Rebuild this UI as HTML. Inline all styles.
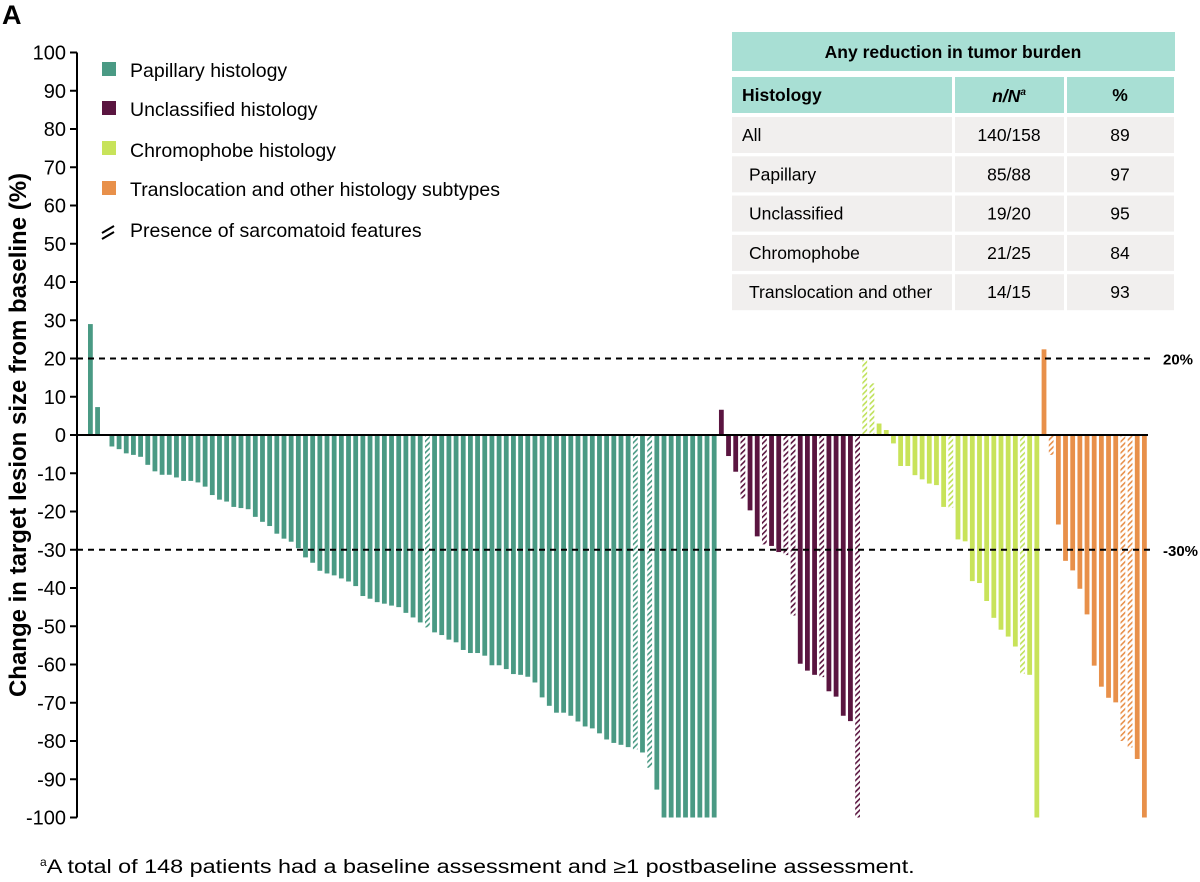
<!DOCTYPE html>
<html><head><meta charset="utf-8"><style>
body{margin:0;background:#fff;font-family:"Liberation Sans",Arial,sans-serif}
svg{display:block}
</style></head><body>
<svg id="chart" width="1200" height="882" viewBox="0 0 1200 882" xmlns="http://www.w3.org/2000/svg" font-family="Liberation Sans, Arial, sans-serif">
<defs>
<pattern id="h-pap" width="4" height="4" patternUnits="userSpaceOnUse" patternTransform="rotate(45)"><rect width="4" height="4" fill="#fff"/><rect width="1.6" height="4" fill="#4a9a84"/></pattern>
<pattern id="h-unc" width="4" height="4" patternUnits="userSpaceOnUse" patternTransform="rotate(45)"><rect width="4" height="4" fill="#fff"/><rect width="1.6" height="4" fill="#5a1540"/></pattern>
<pattern id="h-chr" width="4" height="4" patternUnits="userSpaceOnUse" patternTransform="rotate(45)"><rect width="4" height="4" fill="#fff"/><rect width="1.6" height="4" fill="#bfe15a"/></pattern>
<pattern id="h-tra" width="4" height="4" patternUnits="userSpaceOnUse" patternTransform="rotate(45)"><rect width="4" height="4" fill="#fff"/><rect width="1.6" height="4" fill="#e8904a"/></pattern>
</defs>
<text x="2" y="24" font-size="27" font-weight="bold">A</text>
<g id="yaxis"></g>
<text transform="translate(26,435) rotate(-90)" text-anchor="middle" font-size="24" font-weight="bold">Change in target lesion size from baseline (%)</text>
<g id="bars"></g>
<g id="refs"></g>
<g font-size="19.5">
 <g><rect x="102" y="62" width="14" height="14" fill="#4a9a84"/><text x="130" y="77">Papillary histology</text></g>
 <g><rect x="102" y="101" width="14" height="14" fill="#5a1540"/><text x="130" y="116">Unclassified histology</text></g>
 <g><rect x="102" y="141" width="14" height="14" fill="#c8e35a"/><text x="130" y="157">Chromophobe histology</text></g>
 <g><rect x="102" y="181" width="14" height="14" fill="#e8904a"/><text x="130" y="196">Translocation and other histology subtypes</text></g>
 <g><path d="M102 233 L114 226 M102 239 L114 232" stroke="#000" stroke-width="2"/><text x="130" y="237">Presence of sarcomatoid features</text></g>
</g>
<g font-size="17.5">
 <rect x="732" y="32" width="443" height="39" fill="#a8dfd4"/>
 <text x="953" y="58" text-anchor="middle" font-weight="bold">Any reduction in tumor burden</text>
 <rect x="732" y="77" width="220" height="36" fill="#a8dfd4"/><rect x="955" y="77" width="109" height="36" fill="#a8dfd4"/><rect x="1067" y="77" width="107" height="36" fill="#a8dfd4"/>
 <text x="742" y="101" font-weight="bold">Histology</text>
 <text x="1009" y="102" text-anchor="middle" font-weight="bold" font-style="italic">n/N<tspan font-size="10" dy="-7">a</tspan></text>
 <text x="1120" y="101" text-anchor="middle" font-weight="bold">%</text>
 <g id="trows"></g>
</g>
<text x="40" y="873" font-size="19"><tspan font-size="12" dy="-7">a</tspan><tspan dy="7" textLength="868" lengthAdjust="spacingAndGlyphs">A total of 148 patients had a baseline assessment and ≥1 postbaseline assessment.</tspan></text>
<script>
const papillary=[29,7.3,0,-3,-3.7,-4.8,-5.2,-5.7,-7.8,-9.5,-10.4,-10.4,-11.1,-12,-12,-12.4,-13.5,-15.7,-16.9,-17.4,-18.8,-19.1,-19.4,-21.4,-22.7,-23.8,-25.8,-27.1,-27.9,-29.6,-32,-33.4,-35.5,-36.2,-36.7,-37.5,-38.3,-39.5,-42.1,-42.8,-43.7,-44.1,-44.6,-45,-46.5,-47.7,-49,-50.3,-51.6,-52.3,-53.5,-54.2,-56.2,-57,-57,-57.7,-60.2,-60.2,-61.2,-62.5,-62.7,-63.2,-64.7,-68.6,-70.8,-72.6,-72.6,-73.4,-74.9,-76.2,-76.7,-78,-79.6,-80.5,-81,-81.6,-82.2,-83,-87,-92.7,-100,-100,-100,-100,-100,-100,-100,-100];
const papillaryHatch=[47,76,78];
const unclassified=[6.6,-5.5,-9.6,-16.6,-19.7,-26.5,-28.6,-29,-30.6,-31.4,-47.2,-59.8,-61.6,-62.7,-63.3,-67,-68.4,-73.4,-74.8,-100];
const unclassifiedHatch=[3,6,9,10,14,19];
const chromophobe=[19.6,13.5,3,1.3,-2.2,-8.1,-8.1,-10.5,-11.6,-12.7,-13.1,-18.8,-19,-27.3,-27.8,-38.2,-38.7,-43.4,-47.8,-50.9,-52.7,-55.3,-62.4,-62.7,-100];
const chromophobeHatch=[0,1,12,22];
const translocation=[22.4,-5.2,-23.4,-32.9,-35.4,-40.2,-46.9,-60.3,-65.8,-68.7,-69.9,-80,-81.7,-84.7,-100];
const translocationHatch=[1,11,12];
const yTicks=[100,90,80,70,60,50,40,30,20,10,0,-10,-20,-30,-40,-50,-60,-70,-80,-90,-100];
const refLines=[20,-30];
const tableRows=[["All","140/158","89",742],["Papillary","85/88","97",749],["Unclassified","19/20","95",749],["Chromophobe","21/25","84",749],["Translocation and other","14/15","93",749]];

const NS="http://www.w3.org/2000/svg";
const y=v=>435-v*3.825;
const x=i=>88+i*7.17;
function mk(t,a,p){const e=document.createElementNS(NS,t);for(const k in a)e.setAttribute(k,a[k]);p.appendChild(e);return e;}
const ya=document.getElementById('yaxis');
const axl=mk('line',{x1:77,y1:y(100),x2:77,y2:y(-100),stroke:'#000','stroke-width':2},ya);


yTicks.forEach(t=>{
 const tk=mk('line',{x1:70,y1:y(t),x2:77,y2:y(t),stroke:'#000','stroke-width':2},ya);
 
 
 const tl=mk('text',{x:66,y:y(t)+7,'text-anchor':'end','font-size':20},ya);
 
 
 tl.textContent=t;
});
const bg=document.getElementById('bars');
let idx=0;
[[papillary,papillaryHatch,'#4a9a84','h-pap','papillary'],[unclassified,unclassifiedHatch,'#5a1540','h-unc','unclassified'],[chromophobe,chromophobeHatch,'#c8e35a','h-chr','chromophobe'],[translocation,translocationHatch,'#e8904a','h-tra','translocation']].forEach(g=>{
 g[0].forEach((v,j)=>{
  const top=Math.min(y(v),y(0)),h=Math.abs(y(v)-y(0));
  const r=mk('rect',{x:x(idx),y:top,width:4.8,height:h,fill:g[1].includes(j)?'url(#'+g[3]+')':g[2]},bg);
  
  
  idx++;
 });
});
const rg=document.getElementById('refs');
const zl=mk('line',{x1:77,y1:y(0),x2:1148,y2:y(0),stroke:'#000','stroke-width':2},rg);


refLines.forEach(v=>{
 const l=mk('line',{x1:77,y1:y(v),x2:1155,y2:y(v),stroke:'#000','stroke-width':2,'stroke-dasharray':'6 5'},rg);
 
 
 const t=mk('text',{x:1163,y:y(v)+6,'font-size':15,'font-weight':'bold'},rg);
 
 
 t.textContent=v+'%';
});
const tr=document.getElementById('trows');
tableRows.forEach((r,i)=>{
 const ty=117+i*39.3;
 [[732,220],[955,109],[1067,107]].forEach(c=>mk('rect',{x:c[0],y:ty,width:c[1],height:36,fill:'#f1efee'},tr));
 const a=mk('text',{x:r[3],y:ty+24},tr);a.textContent=r[0];
 
 
 const b=mk('text',{x:1009,y:ty+24,'text-anchor':'middle'},tr);b.textContent=r[1];
 
 
 const c=mk('text',{x:1120,y:ty+24,'text-anchor':'middle'},tr);c.textContent=r[2];
 
 
});
</script>
</svg>
</body></html>
